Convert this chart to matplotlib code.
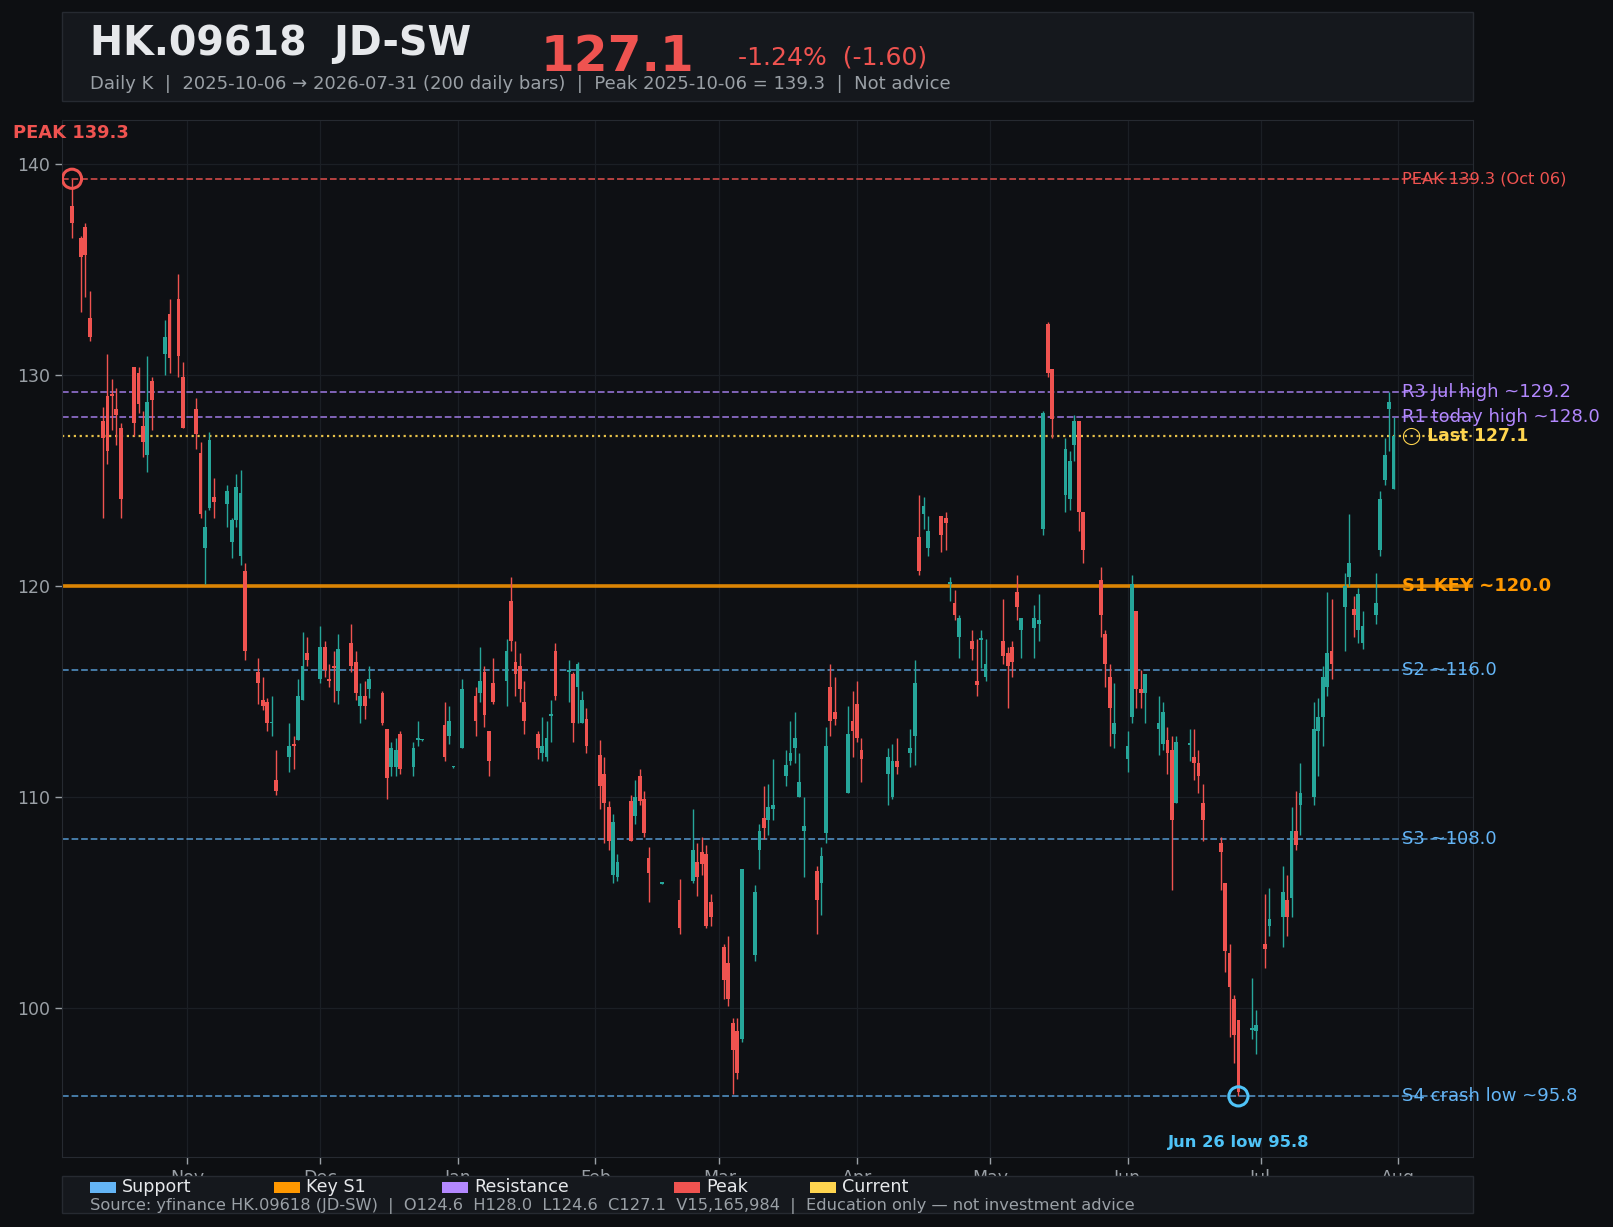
"""HK.09618 JD-SW daily candles with support / resistance levels, dark theme."""

import matplotlib
matplotlib.use("Agg")
import matplotlib.pyplot as plt
import matplotlib.dates as mdates
from matplotlib.patches import Rectangle
import numpy as np
import pandas as pd

# --- trading calendar (HK holidays removed) ---------------------------------
HK_HOLIDAYS = ["2025-10-07", "2025-10-29", "2025-12-25", "2025-12-26",
               "2026-01-01", "2026-02-17", "2026-02-18", "2026-02-19",
               "2026-04-03", "2026-04-06", "2026-04-07", "2026-05-01",
               "2026-05-25", "2026-06-19", "2026-07-01"]
dates = pd.bdate_range("2025-10-06", "2026-07-31", freq="C", holidays=HK_HOLIDAYS)

# --- daily OHLC --------------------------------------------------------------
opens = [
    # Oct
    138.0, 136.5, 137.0, 132.7, 127.8, 129.0, 129.1, 128.4, 127.5, 130.4,
    130.1, 127.6, 126.2, 129.7, 131.0, 132.9, 133.6, 129.9,
    # Nov
    128.4, 126.3, 121.8, 123.7, 124.2, 123.9, 122.1, 123.1, 121.4, 120.7,
    115.9, 114.6, 114.5, 113.5, 110.8, 111.9, 112.5, 112.7, 114.6, 116.8,
    # Dec
    115.6, 117.1, 115.6, 116.2, 115.0, 117.3, 116.4, 114.3, 114.8, 115.1,
    114.9, 113.2, 111.4, 111.4, 113.0, 111.4, 112.7, 112.68, 113.4, 112.9, 111.4,
    # Jan
    112.3, 114.8, 114.9, 115.9, 113.1, 115.4, 115.5, 119.3, 116.4, 116.2,
    114.5, 113.0, 112.1, 111.9, 113.85, 116.9, 115.9, 115.8, 115.2, 113.5, 113.7,
    # Feb
    112.0, 111.1, 109.5, 106.3, 106.2, 109.8, 109.1, 111.0, 109.9, 107.1,
    105.88, 105.1, 106.0, 106.9, 107.4, 107.3, 105.0,
    # Mar
    102.9, 102.1, 99.3, 98.9, 98.5, 102.5, 107.5, 109.0, 108.9, 109.4,
    111.0, 111.7, 112.3, 110.0, 108.4, 106.5, 105.9, 108.3, 115.2, 114.0,
    110.2, 113.6,
    # Apr
    114.4, 112.2, 111.1, 110.0, 111.7, 112.1, 112.9, 122.3, 123.4, 121.8,
    123.3, 123.2, 120.1, 119.2, 117.6, 117.4, 115.5, 117.45, 115.7,
    # May
    117.4, 116.8, 117.1, 119.7, 117.9, 118.0, 118.2, 122.7, 132.4, 130.3,
    124.3, 124.1, 126.7, 127.8, 123.5, 120.3, 117.7, 115.7, 113.0,
    # Jun
    111.8, 113.8, 118.8, 115.1, 114.9, 113.2, 112.5, 112.7, 112.2, 109.7,
    112.45, 111.9, 111.6, 109.7, 107.8, 105.9, 102.6, 100.4, 99.4, 98.95, 98.9,
    # Jul
    103.0, 103.9, 104.3, 105.1, 105.2, 108.4, 109.6, 110.0, 113.1, 113.8,
    115.2, 116.9, 119.0, 120.4, 118.9, 117.9, 117.3, 118.6, 121.7, 125.0,
    128.4, 124.6,
]
highs = [
    139.3, 136.6, 137.2, 134.0, 128.5, 131.0, 129.8, 129.4, 127.7, 130.4,
    130.4, 128.3, 130.9, 129.9, 132.6, 133.6, 134.8, 130.6,
    128.9, 126.8, 123.6, 127.3, 125.1, 124.8, 123.2, 125.3, 125.5, 121.1,
    116.6, 115.7, 114.7, 114.8, 112.2, 113.5, 112.9, 115.6, 117.8, 117.6,
    118.1, 117.4, 116.3, 116.9, 117.7, 118.2, 116.9, 115.4, 115.5, 116.2,
    115.0, 113.2, 112.6, 112.8, 113.1, 112.6, 113.6, 112.75, 114.5, 114.3, 111.45,
    115.6, 115.2, 117.1, 116.2, 113.1, 116.6, 117.5, 120.4, 117.4, 116.8,
    115.5, 113.1, 113.8, 113.6, 114.6, 117.3, 116.5, 115.9, 116.4, 115.0, 114.2,
    112.7, 111.9, 109.8, 109.2, 107.3, 110.1, 110.8, 111.3, 110.3, 107.6,
    105.95, 106.1, 109.4, 107.8, 108.1, 107.7, 105.4,
    103.0, 103.4, 99.5, 99.5, 106.6, 105.8, 108.7, 110.5, 110.6, 111.8,
    112.2, 113.6, 114.0, 112.1, 110.0, 106.7, 107.6, 113.3, 116.3, 115.7,
    114.3, 115.0,
    115.5, 112.8, 112.3, 112.5, 112.8, 113.2, 116.5, 124.3, 124.2, 123.3,
    123.3, 123.5, 120.4, 119.8, 118.6, 117.9, 117.5, 117.9, 117.5,
    119.4, 117.1, 117.4, 120.5, 118.5, 119.1, 119.6, 128.3, 132.5, 130.3,
    127.0, 126.4, 128.1, 127.8, 123.5, 120.9, 117.9, 116.3, 115.4,
    113.1, 120.5, 118.8, 116.0, 115.8, 114.8, 114.5, 113.3, 112.9, 112.9,
    113.2, 113.2, 112.2, 110.6, 108.1, 105.9, 103.0, 100.6, 99.4, 101.4, 99.9,
    105.4, 105.7, 106.7, 106.3, 109.5, 110.3, 111.6, 114.5, 114.7, 116.2,
    119.7, 119.4, 120.6, 123.4, 119.5, 119.9, 118.8, 120.6, 124.5, 127.0,
    129.2, 128.0,
]
lows = [
    136.5, 133.0, 133.7, 131.6, 123.2, 125.8, 127.4, 126.7, 123.2, 127.1,
    128.2, 126.1, 125.4, 127.4, 130.0, 130.1, 129.9, 127.5,
    126.5, 123.2, 120.1, 123.6, 123.2, 122.8, 121.3, 122.8, 121.0, 116.5,
    114.4, 114.1, 113.1, 112.9, 110.1, 111.2, 111.3, 112.7, 114.6, 116.2,
    115.4, 115.7, 115.2, 114.5, 114.4, 115.9, 114.6, 113.5, 113.7, 114.7,
    113.4, 109.9, 111.0, 111.0, 111.1, 111.0, 112.4, 112.65, 111.7, 112.5, 111.35,
    112.3, 112.9, 114.5, 113.3, 111.0, 114.4, 114.3, 116.9, 114.8, 114.5,
    113.0, 111.8, 111.7, 111.7, 112.6, 114.6, 114.5, 112.6, 113.5, 113.5, 112.1,
    109.4, 107.8, 107.5, 105.9, 106.0, 107.9, 108.7, 109.6, 108.1, 105.0,
    105.85, 103.5, 105.9, 105.3, 106.3, 103.8, 103.9,
    100.4, 100.1, 95.9, 96.6, 98.4, 102.2, 106.6, 108.0, 108.2, 108.9,
    110.5, 111.5, 111.6, 110.0, 106.2, 103.5, 104.4, 107.8, 112.9, 113.4,
    110.2, 111.9,
    112.6, 110.7, 109.6, 109.9, 111.1, 111.4, 111.5, 120.5, 122.7, 121.4,
    121.6, 121.7, 119.3, 118.4, 116.6, 116.5, 114.8, 116.1, 115.5,
    116.3, 114.2, 115.7, 118.4, 116.6, 116.6, 117.4, 122.4, 129.9, 127.0,
    123.5, 123.6, 125.9, 122.6, 121.1, 117.6, 115.2, 112.4, 112.3,
    111.2, 113.5, 114.2, 114.2, 113.5, 112.0, 112.2, 111.1, 105.6, 109.7,
    111.7, 110.8, 110.2, 107.9, 105.6, 101.7, 98.6, 97.4, 95.8, 98.5, 97.8,
    101.9, 103.4, 102.9, 103.4, 104.3, 107.5, 108.2, 109.6, 111.0, 112.4,
    114.8, 115.6, 116.9, 120.0, 117.6, 117.3, 117.0, 118.2, 121.4, 124.8,
    126.4, 124.6,
]
closes = [
    137.2, 135.6, 135.7, 131.8, 127.0, 126.4, 129.0, 128.1, 124.1, 127.7,
    128.6, 126.8, 128.7, 128.8, 131.8, 130.8, 130.9, 127.5,
    127.2, 123.4, 122.8, 126.9, 124.0, 124.5, 123.1, 124.7, 124.4, 116.9,
    115.4, 114.3, 113.5, 113.55, 110.3, 112.4, 112.4, 114.8, 116.2, 116.5,
    117.1, 116.0, 115.5, 116.1, 117.0, 116.2, 114.9, 114.8, 114.3, 115.6,
    113.5, 110.9, 112.3, 112.2, 111.3, 112.3, 112.8, 112.7, 111.9, 113.6, 111.4,
    115.1, 113.6, 115.5, 113.9, 111.7, 114.5, 116.9, 117.4, 115.8, 115.1,
    113.6, 112.3, 112.4, 112.8, 113.95, 114.8, 116.0, 113.5, 116.3, 114.6, 112.4,
    110.5, 109.7, 107.9, 108.8, 106.9, 107.9, 110.0, 109.8, 108.3, 106.4,
    105.92, 103.8, 107.5, 106.2, 106.8, 103.9, 104.3,
    101.3, 100.4, 98.0, 96.9, 106.6, 105.5, 108.4, 108.5, 109.5, 109.6,
    111.5, 112.1, 112.8, 110.7, 108.6, 105.1, 107.2, 112.4, 113.6, 113.7,
    113.0, 113.1,
    112.8, 111.8, 111.9, 111.7, 111.4, 112.3, 115.4, 120.7, 123.8, 122.6,
    122.4, 123.0, 120.2, 118.6, 118.5, 117.0, 115.3, 117.55, 116.3,
    116.7, 116.2, 116.4, 119.0, 118.5, 118.5, 118.4, 128.2, 130.1, 127.9,
    126.5, 125.9, 127.8, 123.5, 121.7, 118.6, 116.3, 114.2, 113.5,
    112.4, 120.1, 115.1, 114.9, 115.8, 113.5, 114.0, 112.1, 108.9, 112.6,
    112.55, 111.6, 111.0, 108.9, 107.4, 102.7, 101.0, 98.7, 96.0, 99.05, 99.2,
    102.8, 104.2, 105.5, 104.3, 108.4, 107.7, 110.2, 113.2, 113.8, 115.7,
    116.8, 116.3, 120.0, 121.1, 118.6, 119.6, 118.1, 119.2, 124.1, 126.2,
    128.7, 127.1,
]

# --- key levels --------------------------------------------------------------
PEAK, LAST, PREV_CLOSE = 139.3, 127.1, 128.7
LOW_VAL, LOW_DATE = 95.8, "2026-06-26"
R_LEVELS = [("R3 Jul high ~129.2", 129.2), ("R1 today high ~128.0", 128.0)]
S_LEVELS = [("S2 ~116.0", 116.0), ("S3 ~108.0", 108.0), ("S4 crash low ~95.8", 95.8)]
S1_KEY = 120.0
VOLUME = 15165984

LEGEND_ITEMS = [("Support", "#64b5f6"), ("Key S1", "#ff9800"),
                ("Resistance", "#b388ff"), ("Peak", "#ef5350"),
                ("Current", "#ffd54f")]

# --- styles ------------------------------------------------------------------
BG = "#0d0f12"
AX_BG = "#0e1014"
PANEL = "#15181d"
EDGE = "#262a31"
GRID = "#1b1f25"
TXT = "#e6e8eb"
MUTED = "#9aa0a6"
UP, DOWN = "#26a69a", "#ef5350"
RED, PURPLE, YELLOW, ORANGE, BLUE, CYAN = (
    "#ef5350", "#b388ff", "#ffd54f", "#ff9800", "#64b5f6", "#4fc3f7")

W, H = 1613, 1227


def fx(px):
    return px / W


def fy(py):
    return 1 - py / H


o, h, l, c = (np.asarray(a, float) for a in (opens, highs, lows, closes))
x = mdates.date2num(dates)
up = c >= o
col = np.where(up, UP, DOWN)

fig = plt.figure(figsize=(W / 100, H / 100), dpi=100, facecolor=BG)
ax = fig.add_axes([fx(62), fy(1157), fx(1473) - fx(62), fy(120) - fy(1157)])
ax.set_facecolor(AX_BG)

# candles
ax.vlines(x, l, h, colors=col, lw=1.0, zorder=3)
body = np.maximum(np.abs(c - o), 0.07)
ax.bar(x, body, bottom=np.minimum(o, c), width=0.85, color=col, lw=0, zorder=4)

# levels
ax.axhline(PEAK, color=RED, ls="--", lw=1.3, alpha=0.8, zorder=2)
for _, v in R_LEVELS:
    ax.axhline(v, color=PURPLE, ls="--", lw=1.3, alpha=0.75, zorder=2)
ax.axhline(LAST, color=YELLOW, ls=":", lw=1.6, alpha=0.9, zorder=2)
ax.axhline(S1_KEY, color=ORANGE, lw=2.6, alpha=0.85, zorder=2)
for _, v in S_LEVELS:
    ax.axhline(v, color=BLUE, ls="--", lw=1.3, alpha=0.7, zorder=2)

# right-edge labels
xl = x[-1] + 2.0
lab = dict(va="center", ha="left", clip_on=False, zorder=6)
ax.text(xl, PEAK, f"PEAK {PEAK:.1f} ({dates[0]:%b %d})", color=RED, fontsize=11.7, **lab)
for name, v in R_LEVELS:
    ax.text(xl, v, name, color=PURPLE, fontsize=13, **lab)
ax.text(xl, LAST, f"\u25ef Last {LAST:.1f}", color=YELLOW, fontsize=12.3,
        fontweight="bold", **lab)
ax.text(xl, S1_KEY, f"S1 KEY ~{S1_KEY:.1f}", color=ORANGE, fontsize=13,
        fontweight="bold", **lab)
for name, v in S_LEVELS:
    ax.text(xl, v, name, color=BLUE, fontsize=13, **lab)

# peak / low markers
low_x = mdates.date2num(pd.Timestamp(LOW_DATE))
ax.scatter([x[0]], [PEAK], s=190, facecolors="none", edgecolors=RED, lw=2.2, zorder=7)
ax.scatter([low_x], [LOW_VAL], s=190, facecolors="none", edgecolors=CYAN, lw=2.2, zorder=7)
ax.annotate(f"{pd.Timestamp(LOW_DATE):%b %d} low {LOW_VAL:.1f}", (low_x, LOW_VAL),
            xytext=(0, -33), textcoords="offset points", ha="center", va="center",
            color=CYAN, fontsize=11.8, fontweight="bold", zorder=7)
fig.text(fx(13), fy(138), f"PEAK {PEAK:.1f}", color=RED, fontsize=12.9,
         fontweight="bold", va="baseline")

# axes cosmetics
ax.set_xlim(x[0] - 2.25, x[-1] + 17.9)
ax.set_ylim(LOW_VAL * 0.97, PEAK * 1.02)
ax.set_yticks([100, 110, 120, 130, 140])
ax.xaxis.set_major_locator(mdates.MonthLocator())
ax.xaxis.set_major_formatter(mdates.DateFormatter("%b"))
ax.grid(True, color=GRID, lw=0.9)
ax.set_axisbelow(True)
ax.tick_params(colors=MUTED, labelsize=12.5, length=5, width=1)
for sp in ax.spines.values():
    sp.set_color(EDGE)

# header panel
fig.add_artist(Rectangle((fx(62), fy(101)), fx(1473) - fx(62), 89 / H,
                         transform=fig.transFigure, fc=PANEL, ec=EDGE, lw=1, zorder=1))
fig.text(fx(90), fy(55), "HK.09618  JD-SW", color=TXT, fontsize=28.5,
         fontweight="bold", va="baseline")
fig.text(fx(541), fy(71), f"{LAST:.1f}", color=RED, fontsize=35,
         fontweight="bold", va="baseline")
chg = LAST - PREV_CLOSE
fig.text(fx(738), fy(64), f"{chg / PREV_CLOSE:+.2%}  ({chg:+.2f})", color=RED,
         fontsize=18, va="baseline")
fig.text(fx(90), fy(89),
         f"Daily K  |  {dates[0]:%Y-%m-%d} \u2192 {dates[-1]:%Y-%m-%d} "
         f"({len(dates)} daily bars)  |  Peak {dates[0]:%Y-%m-%d} = {PEAK:.1f}  |  Not advice",
         color=MUTED, fontsize=12.95, va="baseline")

# legend / footer panel (drawn over the month labels)
fig.add_artist(Rectangle((fx(62), fy(1213)), fx(1473) - fx(62), 37 / H,
                         transform=fig.transFigure, fc=PANEL, ec=EDGE, lw=1, zorder=1))
px = 90
for name, color in LEGEND_ITEMS:
    fig.add_artist(Rectangle((fx(px), fy(1193)), 26 / W, 11 / H,
                             transform=fig.transFigure, fc=color, lw=0, zorder=2))
    fig.text(fx(px + 32), fy(1187.5), name, color=TXT, fontsize=12.6, va="center")
    px += 72 + 16 * len(name)
fig.text(fx(90), fy(1210),
         f"Source: yfinance HK.09618 (JD-SW)  |  O{o[-1]:.1f}  H{h[-1]:.1f}  "
         f"L{l[-1]:.1f}  C{c[-1]:.1f}  V{VOLUME:,}  |  Education only \u2014 not investment advice",
         color=MUTED, fontsize=11.7, va="baseline")

fig.savefig("out.png", dpi=100, facecolor=BG)
